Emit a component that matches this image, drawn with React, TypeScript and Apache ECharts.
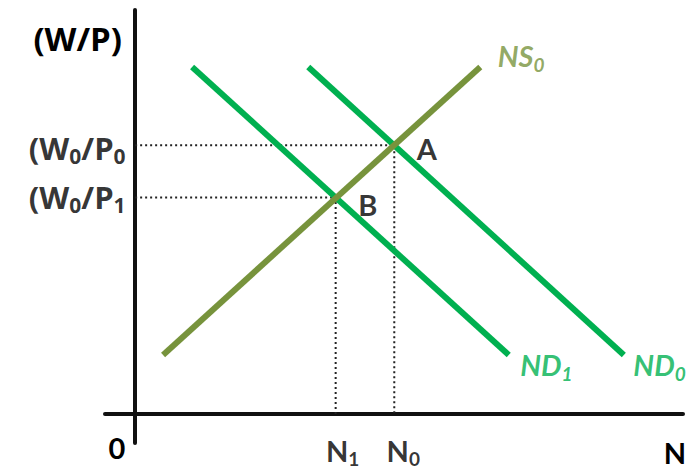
import React, { useEffect, useRef } from "react";
import * as echarts from "echarts";

// Curve end points (N, W/P)
const ns0Points: number[][] = [[0.51, 1.46], [6.3, 8.59]];
const nd1Points: number[][] = [[1.04, 8.59], [6.82, 1.46]];
const nd0Points: number[][] = [[3.16, 8.59], [8.92, 1.46]];
// Equilibria
const pointA: number[] = [4.73, 6.65];
const pointB: number[] = [3.66, 5.36];
// Axis tick labels
const nValues: number[] = [pointB[0], pointA[0]];
const nLabels: string[] = ["{m|N}{s|1}", "{m|N}{s|0}"];
const wValues: number[] = [pointB[1], pointA[1]];
const wLabels: string[] = ["{m|(W}{s|0}{m|/P}{s|1}", "{m|(W}{s|0}{m|/P}{s|0}"];

const FONT = "Lato";
const WIDE = "Open Sans";
const GREEN = "#00B050";
const OLIVE = "#77933C";
const DARK = "#111";

const rich = (color: string, italic = false, size = 29, sub = 19, family = FONT) => ({
  m: { fontFamily: family, fontWeight: "bold", fontSize: size, color, lineHeight: 36, fontStyle: italic ? "italic" : "normal" },
  s: { fontFamily: family, fontWeight: "bold", fontSize: sub, color, lineHeight: 26, verticalAlign: "bottom", fontStyle: italic ? "italic" : "normal" },
});

export default function App() {
  const ref = useRef<HTMLDivElement>(null);
  useEffect(() => {
    if (!ref.current) return;
    const chart = echarts.init(ref.current, null, { renderer: "svg" });
    const labelScatter = (pt: number[], text: string, color: string, italic: boolean, offset: number[], position = "right", r: any = null) => ({
      type: "scatter",
      data: [pt],
      symbolSize: 1,
      itemStyle: { color: "rgba(0,0,0,0)" },
      silent: true,
      z: 5,
      label: {
        show: true,
        position,
        distance: 0,
        offset,
        formatter: text,
        rich: r || rich(color, italic),
      },
    });
    const lineSeries = (data: number[][], color: string, width: number, type: any = "solid", z = 3) => ({
      type: "line",
      data,
      symbol: "none",
      silent: true,
      z,
      lineStyle: { color, width, type, cap: "butt" },
    });
    const yRich = rich("#000", false, 31, 21, WIDE);
    chart.setOption({
      animation: false,
      backgroundColor: "#fff",
      grid: { left: 105, right: 10, top: 10, bottom: 26, containLabel: false, outerBoundsMode: "none" },
      xAxis: {
        type: "value",
        min: -0.55,
        max: 10,
        axisLine: { show: true, onZero: true, lineStyle: { color: DARK, width: 4 } },
        axisTick: { show: false },
        splitLine: { show: false },
        axisLabel: { show: false },
      },
      yAxis: {
        type: "value",
        min: -0.72,
        max: 10,
        axisLine: { show: true, onZero: true, lineStyle: { color: DARK, width: 4 } },
        axisTick: { show: false },
        splitLine: { show: false },
        axisLabel: { show: false },
      },
      series: [
        lineSeries([[0, pointA[1]], pointA, [pointA[0], 0]], "#222", 2, [2, 3], 2),
        lineSeries([[0, pointB[1]], pointB, [pointB[0], 0]], "#222", 2, [2, 3], 2),
        lineSeries(nd1Points, GREEN, 6),
        lineSeries(nd0Points, GREEN, 6),
        lineSeries(ns0Points, OLIVE, 6, "solid", 4),
        labelScatter(pointA, "{m|A}", "#000", false, [22, 3]),
        labelScatter(pointB, "{m|B}", "#000", false, [22, 7]),
        labelScatter(ns0Points[1], "{m|NS}{s|0}", OLIVE, true, [17, -11]),
        labelScatter(nd1Points[1], "{m|ND}{s|1}", GREEN, true, [11, 10]),
        labelScatter(nd0Points[1], "{m|ND}{s|0}", GREEN, true, [9, 10]),
        labelScatter([nValues[0], 0], nLabels[0], "#000", false, [7, 18], "bottom"),
        labelScatter([nValues[1], 0], nLabels[1], "#000", false, [9, 18], "bottom"),
        labelScatter([0, wValues[0]], wLabels[0], "#000", false, [-9, 0], "left", yRich),
        labelScatter([0, wValues[1]], wLabels[1], "#000", false, [-9, 3], "left", yRich),
      ],
      graphic: [
        {
          type: "text",
          x: 122,
          y: 38,
          style: { text: "(W/P)", fontFamily: WIDE, fontWeight: "bold", fontSize: 33, fill: "#000", textAlign: "right", textVerticalAlign: "middle" },
        },
        {
          type: "text",
          x: 117,
          y: 447,
          style: { text: "0", fontFamily: FONT, fontWeight: "bold", fontSize: 29, fill: "#000", textAlign: "center", textVerticalAlign: "middle" },
        },
        {
          type: "text",
          x: 675,
          y: 452,
          style: { text: "N", fontFamily: FONT, fontWeight: "bold", fontSize: 29, fill: "#000", textAlign: "center", textVerticalAlign: "middle" },
        },
      ],
    });
    return () => chart.dispose();
  }, []);
  return (
    <div
      ref={ref}
      style={{ position: "fixed", left: 0, top: 0, width: 693, height: 469, background: "#fff" }}
    />
  );
}
